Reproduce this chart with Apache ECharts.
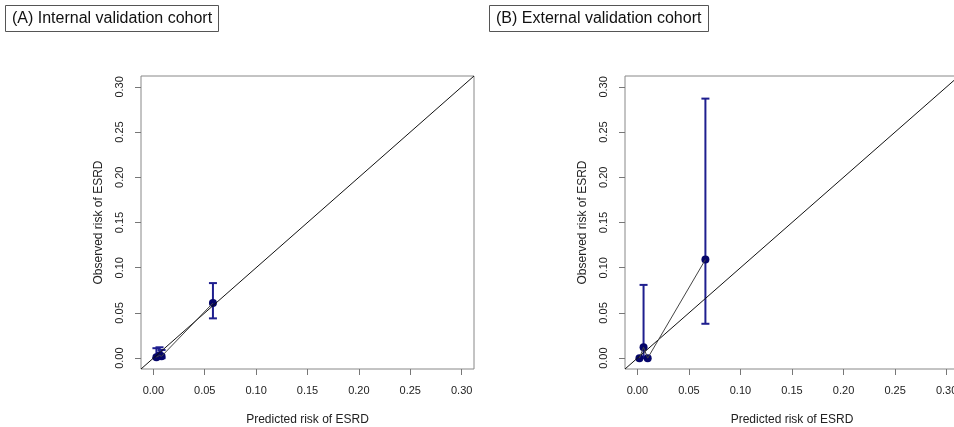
<!DOCTYPE html>
<html>
<head>
<meta charset="utf-8">
<script src="https://cdn.jsdelivr.net/npm/echarts@6/dist/echarts.min.js"></script>
<style>
  html, body { margin: 0; padding: 0; background: #fff; }
  #chart { width: 954px; height: 427px; }
</style>
</head>
<body>
<div id="chart"></div>
<script>
// tick labels shared by both panels
var tickValues = [0, 0.05, 0.10, 0.15, 0.20, 0.25, 0.30];
var axisMin = -0.012;
var axisMax = 0.312;

// (A) internal validation cohort
var internalPred = [0.003, 0.006, 0.008, 0.058];
var internalObs = [0.001, 0.003, 0.002, 0.061];
var internalLow = [0.000, 0.000, 0.000, 0.044];
var internalHigh = [0.011, 0.012, 0.009, 0.083];

// (B) external validation cohort
var externalPred = [0.002, 0.006, 0.010, 0.066];
var externalObs = [0.000, 0.012, 0.000, 0.109];
var externalLow = [0.000, 0.000, 0.000, 0.038];
var externalHigh = [0.000, 0.081, 0.000, 0.287];

var barColor = '#1f1f8f';
var dotColor = '#06066a';
var fontName = 'Liberation Sans, Arial, sans-serif';

function pairs(xs, ys) {
    var out = [];
    for (var i = 0; i < xs.length; i++) out.push([xs[i], ys[i]]);
    return out;
}
function triples(xs, lo, hi) {
    var out = [];
    for (var i = 0; i < xs.length; i++) out.push([xs[i], lo[i], hi[i]]);
    return out;
}

// vertical error bar with caps
function renderBar(params, api) {
    var x = api.value(0), lo = api.value(1), hi = api.value(2);
    if (hi <= lo) return null;
    var top = api.coord([x, hi]);
    var bot = api.coord([x, lo]);
    var hw = 4;
    var st = { stroke: barColor, lineWidth: 2 };
    return {
        type: 'group',
        children: [
            { type: 'line', shape: { x1: top[0], y1: top[1], x2: bot[0], y2: bot[1] }, style: st },
            { type: 'line', shape: { x1: top[0] - hw, y1: top[1], x2: top[0] + hw, y2: top[1] }, style: st },
            { type: 'line', shape: { x1: bot[0] - hw, y1: bot[1], x2: bot[0] + hw, y2: bot[1] }, style: st }
        ]
    };
}

function makeAxis(idx, name, isY) {
    return {
        type: 'value',
        gridIndex: idx,
        min: axisMin,
        max: axisMax,
        name: name,
        nameLocation: 'middle',
        nameGap: isY ? 36 : 45,
        nameTextStyle: { fontFamily: fontName, fontSize: 12, color: '#222' },
        axisLine: { show: false, onZero: false },
        splitLine: { show: false },
        axisTick: { show: true, length: 6, customValues: tickValues, lineStyle: { color: '#777' } },
        axisLabel: {
            customValues: tickValues,
            rotate: isY ? 90 : 0,
            margin: isY ? 16 : 16,
            fontFamily: fontName,
            fontSize: 11,
            color: '#222',
            formatter: function (v) { return v.toFixed(2); }
        }
    };
}

function panelSeries(idx, pred, obs, low, high) {
    return [
        {
            type: 'line', xAxisIndex: idx, yAxisIndex: idx,
            data: [[axisMin, axisMin], [axisMax, axisMax]],
            showSymbol: false, silent: true,
            lineStyle: { color: '#111', width: 1 }
        },
        {
            type: 'line', xAxisIndex: idx, yAxisIndex: idx,
            data: pairs(pred, obs),
            showSymbol: false, silent: true,
            lineStyle: { color: '#444', width: 1 }
        },
        {
            type: 'custom', xAxisIndex: idx, yAxisIndex: idx,
            data: triples(pred, low, high),
            encode: { x: 0, y: [1, 2] },
            renderItem: renderBar
        },
        {
            type: 'scatter', xAxisIndex: idx, yAxisIndex: idx,
            data: pairs(pred, obs),
            symbolSize: 8,
            itemStyle: { color: dotColor, opacity: 1 }
        }
    ];
}

var chart = echarts.init(document.getElementById('chart'));
var option = {
    animation: false,
    backgroundColor: '#fff',
    title: [
        {
            text: '(A) Internal validation cohort',
            left: 5, top: 5,
            padding: [6, 7, 5, 7],
            borderColor: '#555', borderWidth: 1,
            textStyle: { fontFamily: fontName, fontSize: 16, fontWeight: 'normal', color: '#111' }
        },
        {
            text: '(B) External validation cohort',
            left: 489, top: 5,
            padding: [6, 7, 5, 7],
            borderColor: '#555', borderWidth: 1,
            textStyle: { fontFamily: fontName, fontSize: 16, fontWeight: 'normal', color: '#111' }
        }
    ],
    grid: [
        { left: 141, top: 76, width: 333, height: 293, outerBoundsMode: 'none', show: true, borderColor: '#888', borderWidth: 1, backgroundColor: 'transparent' },
        { left: 625, top: 76, width: 334, height: 293, outerBoundsMode: 'none', show: true, borderColor: '#888', borderWidth: 1, backgroundColor: 'transparent' }
    ],
    xAxis: [
        makeAxis(0, 'Predicted risk of ESRD', false),
        makeAxis(1, 'Predicted risk of ESRD', false)
    ],
    yAxis: [
        makeAxis(0, 'Observed risk of ESRD', true),
        makeAxis(1, 'Observed risk of ESRD', true)
    ],
    series: panelSeries(0, internalPred, internalObs, internalLow, internalHigh)
        .concat(panelSeries(1, externalPred, externalObs, externalLow, externalHigh))
};
chart.setOption(option);
</script>
</body>
</html>
